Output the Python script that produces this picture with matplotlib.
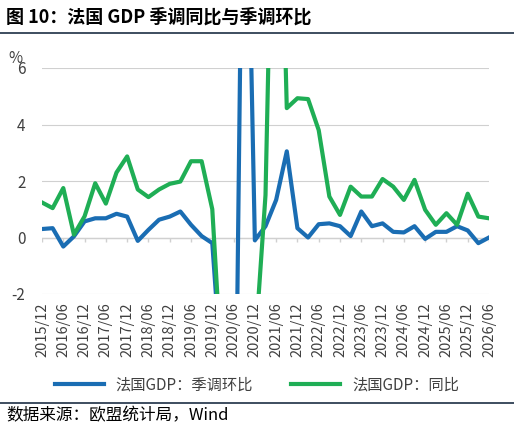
import numpy as np
import matplotlib
matplotlib.use("Agg")
from matplotlib import pyplot as plt
from matplotlib.lines import Line2D

plt.rcParams['font.family'] = ['Noto Sans CJK SC', 'DejaVu Sans']
plt.rcParams['axes.unicode_minus'] = False

# quarterly, 2015Q4 .. 2026Q2
qoq = [0.3, 0.33, -0.32, 0.04, 0.57, 0.68, 0.68, 0.84, 0.74, -0.12, 0.27, 0.63, 0.74, 0.92,
       0.45, 0.05, -0.2, -5.5, -13.5, 18.5, -0.1, 0.4, 1.33, 3.05, 0.33, 0.0, 0.47, 0.5,
       0.4, 0.05, 0.92, 0.4, 0.5, 0.2, 0.18, 0.4, -0.05, 0.2, 0.2, 0.4, 0.25, -0.2, 0.0]
yoy = [1.24, 1.04, 1.75, 0.1, 0.75, 1.92, 1.2, 2.3, 2.87, 1.7, 1.43, 1.7, 1.9, 1.98,
       2.7, 2.7, 1.0, -5.4, -18.6, -3.6, -4.0, 1.5, 19.0, 4.58, 4.93, 4.9, 3.8, 1.45,
       0.8, 1.8, 1.45, 1.45, 2.07, 1.8, 1.33, 2.04, 0.98, 0.45, 0.86, 0.45, 1.55, 0.74, 0.68]
tick_labels = ["2015/12", "2016/06", "2016/12", "2017/06", "2017/12", "2018/06", "2018/12",
               "2019/06", "2019/12", "2020/06", "2020/12", "2021/06", "2021/12", "2022/06",
               "2022/12", "2023/06", "2023/12", "2024/06", "2024/12", "2025/06", "2025/12",
               "2026/06"]

blue = "#1a6db3"
green = "#1fae55"
grid = "#d0d0d0"

fig = plt.figure(figsize=(5.14, 4.28), dpi=100)
ax = fig.add_axes([42 / 514, 1 - 294 / 428, (489 - 42) / 514, (294 - 68) / 428])
x = np.arange(len(qoq))
ticks = np.arange(0, len(qoq), 2)
ax.axhline(0, color=grid, lw=1, zorder=1)
ax.vlines(ticks, -0.15, 0, color=grid, lw=1, zorder=1)
ax.plot(x, qoq, color=blue, lw=3, solid_joinstyle="round", zorder=3)
ax.plot(x, yoy, color=green, lw=3, solid_joinstyle="round", zorder=3)
ax.set_ylim(-2, 6)
ax.set_xlim(0, len(qoq) - 1)
ax.set_yticks([-2, 0, 2, 4, 6])
ax.yaxis.grid(True, color=grid, lw=0.8)
ax.set_axisbelow(True)
ax.set_xticks(ticks)
ax.set_xticklabels(tick_labels, rotation=90, fontsize=10.5, color="#404040")
ax.tick_params(axis="y", length=0, labelsize=11, colors="#404040", pad=12)
ax.tick_params(axis="x", length=0, pad=6)
for s in ["top", "right", "left", "bottom"]:
    ax.spines[s].set_visible(False)
ax.text(-0.06, 1.02, "%", transform=ax.transAxes, fontsize=11, color="#404040", ha="center")

handles = [Line2D([], [], color=blue, lw=3), Line2D([], [], color=green, lw=3)]
fig.legend(handles, ["法国GDP：季调环比", "法国GDP：同比"], loc="center",
           bbox_to_anchor=(0.5, 1 - 385 / 428), ncol=2, frameon=False, fontsize=11,
           handlelength=3.2, columnspacing=2.5, labelcolor="#404040")

fig.text(0.012, 1 - 17 / 428, "图 10：法国 GDP 季调同比与季调环比", fontsize=13,
         fontweight="bold", va="center")
fig.add_artist(Line2D([0, 1], [1 - 33 / 428] * 2, color="#1c2f44", lw=1.2))
fig.add_artist(Line2D([0, 1], [1 - 403 / 428] * 2, color="#1c2f44", lw=1.2))
fig.text(0.012, 1 - 416 / 428, "数据来源：欧盟统计局，Wind", fontsize=12, va="center")

fig.savefig("out.png", dpi=100)
